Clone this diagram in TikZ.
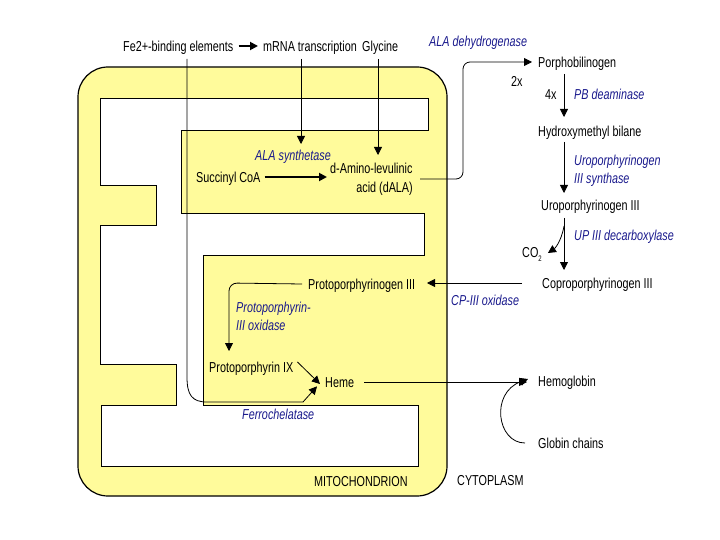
\documentclass[tikz,border=0pt]{standalone}
\usepackage{fontspec}
\setmainfont{Liberation Sans}[FakeStretch=0.75]
\usetikzlibrary{arrows.meta}
\definecolor{mitofill}{RGB}{255,251,155}
\definecolor{enzblue}{RGB}{25,25,140}
\begin{document}
\begin{tikzpicture}[x=1pt,y=-1pt,
  lbl/.style={font=\fontsize{14.4}{18}\selectfont, inner sep=0pt, anchor=west, text height=10.3pt, text depth=0pt},
  enz/.style={lbl, text=enzblue, font=\fontsize{14.4}{18}\selectfont\itshape},
  arr/.style={-{Triangle[length=8pt,width=8pt]}, line width=0.8pt},
  tarr/.style={-{Triangle[length=8pt,width=8pt]}, line width=1.8pt},
  plain/.style={line width=0.8pt}]
\useasboundingbox (0,0) rectangle (720,540);
% mitochondrion
\draw[fill=mitofill, line width=1.2pt, rounded corners=30pt] (78,67) rectangle (447,496);
\draw[fill=white, line width=1pt] (100.7,98.3) -- (428.3,98.3) -- (428.3,130.7) -- (181.7,130.7)
  -- (181.7,214) -- (424.3,214) -- (424.3,255.7) -- (203.3,255.7) -- (203.3,405)
  -- (418.3,405) -- (418.3,466.7) -- (101.7,466.7) -- (101.7,405.7) -- (176.7,405.7)
  -- (176.7,364.3) -- (100.7,364.3) -- (100.7,226) -- (156.7,226) -- (156.7,185.7)
  -- (100.7,185.7) -- cycle;
% texts
\node[lbl] (fe) at (123,46) {Fe2+-binding elements};
\node[lbl] (mrna) at (263,46) {mRNA transcription};
\node[lbl] (gly) at (362,46) {Glycine};
\node[enz] (alad) at (429,41) {ALA dehydrogenase};
\node[lbl] (pbg) at (538,62) {Porphobilinogen};
\node[lbl] (two) at (511,81) {2x};
\node[lbl] (four) at (545,94) {4x};
\node[enz] (pbd) at (574,94) {PB deaminase};
\node[lbl] (hmb) at (538,131) {Hydroxymethyl bilane};
\node[enz] (uros1) at (574,160) {Uroporphyrinogen};
\node[enz] (uros2) at (574,178) {III synthase};
\node[lbl] (uro3) at (541,205) {Uroporphyrinogen III};
\node[enz] (updc) at (574,235) {UP III decarboxylase};
\node[lbl] (co2) at (522,252) {CO\raisebox{-4pt}{\fontsize{8}{8}\selectfont 2}};
\node[lbl] (copro) at (542,283) {Coproporphyrinogen III};
\node[enz] (cpox) at (451,300) {CP-III oxidase};
\node[lbl] (proto3) at (308,284) {Protoporphyrinogen III};
\node[enz] (ppox1) at (236,307) {Protoporphyrin-};
\node[enz] (ppox2) at (236,325) {III oxidase};
\node[lbl] (pp9) at (209,367) {Protoporphyrin IX};
\node[lbl] (heme) at (325,382) {Heme};
\node[enz] (ferro) at (242,414) {Ferrochelatase};
\node[lbl] (hb) at (538,381) {Hemoglobin};
\node[lbl] (globin) at (538,443) {Globin chains};
\node[lbl] (cyto) at (457,480) {CYTOPLASM};
\node[lbl] (mito) at (314,481) {MITOCHONDRION};
\node[enz] (alas) at (255,155) {ALA synthetase};
\node[lbl] (succ) at (196,177) {Succinyl CoA};
\node[lbl] (dala1) at (330,168) {d-Amino-levulinic};
\node[lbl, anchor=east] (dala2) at (413,187) {acid (dALA)};
% coordinates
\coordinate (fetop) at (187,59);
\coordinate (mrnatop) at (301,59);
\coordinate (mrnatip) at (301,144);
\coordinate (glytop) at (378,59);
\coordinate (glytip) at (378,155);
\coordinate (dalaout) at (420,179);
% connectors
\draw[tarr] ([xshift=5pt]fe.east) -- ([xshift=-5pt]mrna.west);
\draw[arr] (fetop) -- (187,377) .. controls (187,395) and (192,402) .. (207,402) -- (303,402) -- ([xshift=-8pt,yshift=1pt]heme.south west);
\draw[arr] (mrnatop) -- (mrnatip);
\draw[arr] (glytop) -- (glytip);
\draw[tarr] ([xshift=4pt]succ.east) -- ([xshift=-3pt]succ.east -| dala1.west);
\draw[arr, rounded corners=7pt] (dalaout) -- (463,179) -- (463,62) -- ([xshift=-6pt]pbg.west);
\draw[arr] (564,74) -- (564,117);
\draw[arr] (564,142) -- (564,193);
\draw[arr] (564,218) -- (564,270);
\draw[arr] (564,226) .. controls (561,243) and (554,249) .. ([xshift=6pt,yshift=-1pt]co2.east);
\draw[arr] ([xshift=-20pt]copro.west) -- (427,283);
\draw[arr, rounded corners=8pt] ([xshift=-6pt]proto3.west) -- (229,283) -- (229,351);
\draw[arr] ([xshift=4pt,yshift=5pt]pp9.east) -- ([xshift=-5pt,yshift=-2pt]heme.west);
\draw[arr] ([xshift=10pt]heme.east) -- ([xshift=-11pt]hb.west |- heme.east);
\draw[arr] ([xshift=-13pt]globin.west) .. controls (497,443) and (490,393) .. ([xshift=-10pt,yshift=2pt]hb.west);
\end{tikzpicture}
\end{document}
